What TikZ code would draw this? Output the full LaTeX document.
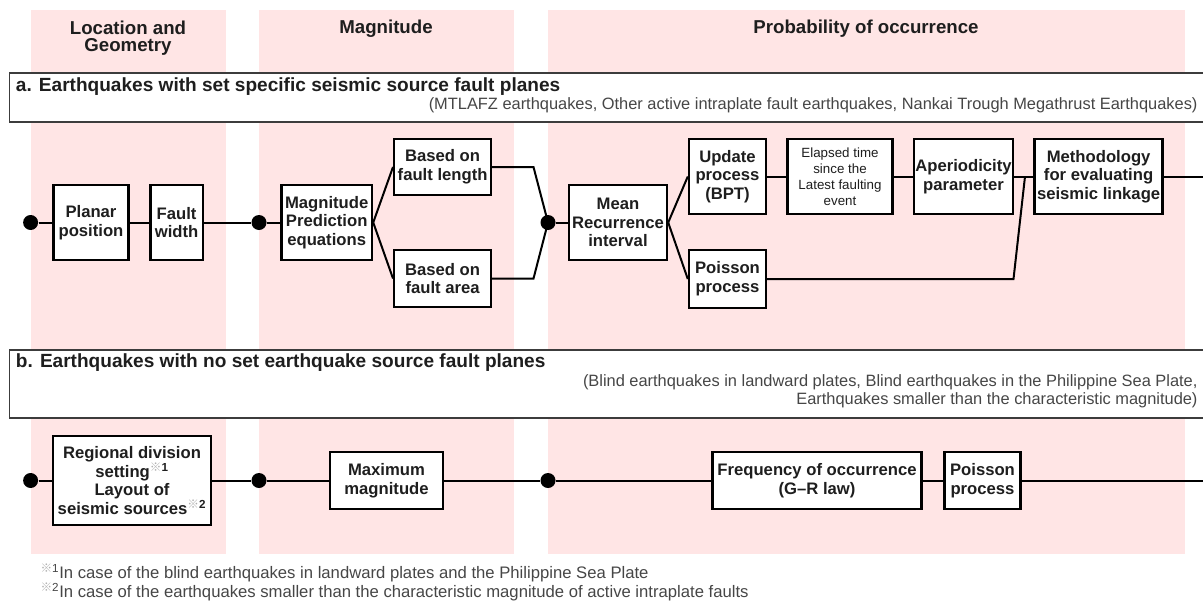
\documentclass[tikz,border=0pt]{standalone}
\usepackage{fontspec}
\setmainfont{Liberation Sans}
\newfontfamily\cjk{Noto Sans CJK JP}

\definecolor{colpink}{RGB}{255,229,229}
\definecolor{ink}{RGB}{30,30,30}
\definecolor{subgray}{RGB}{70,70,70}
\definecolor{framegray}{RGB}{60,60,60}
\definecolor{komegray}{RGB}{175,175,175}

\newcommand\kome[1]{\textsuperscript{{\cjk\color{komegray}※}#1}}

\tikzset{every picture/.style={line width=0.75pt}}
\tikzset{
  blk/.style={draw=black, line width=1.8pt, fill=white, text=ink, align=center, inner sep=1pt,
    font=\fontsize{12.5}{14}\selectfont\bfseries},
  blksm/.style={blk, font=\fontsize{10}{12}\selectfont},
  joint/.style={circle, fill=black, inner sep=0pt, minimum size=11.25pt},
  wire/.style={line width=1.5pt, black},
  hdr/.style={text=ink, align=center, font=\fontsize{14}{13}\selectfont\bfseries},
  ttl/.style={text=ink, inner sep=0pt, font=\fontsize{14.3}{16}\selectfont\bfseries},
  sub/.style={text=subgray, inner sep=0pt, align=right, font=\fontsize{12.3}{13.5}\selectfont},
  note/.style={text=subgray, inner sep=0pt, font=\fontsize{12.5}{14}\selectfont}
}

\begin{document}
\begin{tikzpicture}[x=0.75pt,y=0.75pt,yscale=-1,xscale=1]
	\useasboundingbox (0,0) rectangle (1203,600);

	%Shape: Rectangle [columns]
	\fill[colpink] (30.6,10) rectangle (225.8,554);
	\fill[colpink] (259,10) rectangle (513.6,554);
	\fill[colpink] (548,10) rectangle (1185,554);

	% Text Node [column heads]
	\node[hdr] (hLoc) at (128,38) {Location and\\Geometry};
	\node[hdr] (hMag) at (386,29) {Magnitude};
	\node[hdr] (hProb) at (866,29) {Probability of occurrence};

	%Shape: Frame a
	\fill[white] (9.3,73) rectangle (1203,122);
	\draw[framegray, line width=1pt] (1203,73) -| (9.3,122) -- (1203,122);
	\node[ttl, anchor=west] (tA) at (15.5,87) {a. Earthquakes with set specific seismic source fault planes};
	\node[sub, anchor=east] (sA) at (1198,105) {(MTLAFZ earthquakes, Other active intraplate fault earthquakes, Nankai Trough Megathrust Earthquakes)};

	%Shape: Frame b
	\fill[white] (9.3,350) rectangle (1203,418);
	\draw[framegray, line width=1pt] (1203,350) -| (9.3,418) -- (1203,418);
	\node[ttl, anchor=west] (tB) at (15.5,363) {b. Earthquakes with no set earthquake source fault planes};
	\node[sub, anchor=east] (sB) at (1198,391) {(Blind earthquakes in landward plates, Blind earthquakes in the Philippine Sea Plate,\\Earthquakes smaller than the characteristic magnitude)};

	% Row a
	\node[joint] (dA1) at (30.6,222.5) {};
	\node[blk, minimum width=56pt, minimum height=56.25pt] (plan) at (91,222.5) {Planar\\position};
	\node[blk, minimum width=39.3pt, minimum height=56.25pt] (fwid) at (176.6,222.5) {Fault\\width};
	\node[joint] (dA2) at (259,222.5) {};
	\node[blk, minimum width=68pt, minimum height=56.25pt] (mpe) at (326.7,222.5) {Magnitude\\Prediction\\equations};
	\node[blk, minimum width=72.6pt, minimum height=42pt] (flen) at (442.6,167) {Based on\\fault length};
	\node[blk, minimum width=72.6pt, minimum height=42.75pt] (farea) at (442.6,278.5) {Based on\\fault area};
	\coordinate (kL) at (533.5,167);
	\coordinate (kA) at (533.5,278.5);
	\node[joint] (dA3) at (548,222.5) {};
	\node[blk, minimum width=73.5pt, minimum height=56.25pt] (mri) at (618,222.5) {Mean\\Recurrence\\interval};
	\node[blk, minimum width=57.75pt, minimum height=56.25pt] (upd) at (727.5,176.5) {Update\\process\\(BPT)};
	\node[blk, minimum width=57.75pt, minimum height=43.5pt] (poi) at (727.5,279) {Poisson\\process};
	\node[blksm, minimum width=78.5pt, minimum height=56.25pt] (elap) at (840,176.5) {Elapsed time\\since the\\Latest faulting\\event};
	\node[blk, minimum width=73.9pt, minimum height=56.25pt] (aper) at (963.5,176.5) {Aperiodicity\\parameter};
	\node[blk, minimum width=96pt, minimum height=56.25pt] (meth) at (1098.6,176.5) {Methodology\\for evaluating\\seismic linkage};
	\coordinate (kP) at (1013.5,279);
	\coordinate (kJ) at (1025,176.5);
	\coordinate (eA) at (1203,176.5);

	\draw[wire] (dA1) -- (plan);
	\draw[wire] (plan) -- (fwid);
	\draw[wire] (fwid) -- (dA2);
	\draw[wire] (dA2) -- (mpe);
	\draw[wire] (mpe.east) -- (flen.west);
	\draw[wire] (mpe.east) -- (farea.west);
	\draw[wire] (flen) -- (kL) -- (dA3.center);
	\draw[wire] (farea) -- (kA) -- (dA3.center);
	\draw[wire] (dA3) -- (mri);
	\draw[wire] (mri.east) -- (upd.west);
	\draw[wire] (mri.east) -- (poi.west);
	\draw[wire] (upd) -- (elap);
	\draw[wire] (elap) -- (aper);
	\draw[wire] (aper) -- (meth);
	\draw[wire] (poi) -- (kP) -- (kJ);
	\draw[wire] (meth) -- (eA);

	% Row b
	\node[joint] (dB1) at (30.6,480.5) {};
	\node[blk, minimum width=118.9pt, minimum height=66.75pt] (reg) at (132,480.5) {Regional division\\setting\kome{1}\\Layout of\\seismic sources\kome{2}};
	\node[joint] (dB2) at (259,480.5) {};
	\node[blk, minimum width=84.75pt, minimum height=42.75pt] (maxm) at (386.5,480.5) {Maximum\\magnitude};
	\node[joint] (dB3) at (548,480.5) {};
	\node[blk, minimum width=156.75pt, minimum height=42.75pt] (freq) at (817,480.5) {Frequency of occurrence\\(G--R law)};
	\node[blk, minimum width=57pt, minimum height=42.75pt] (poib) at (982.5,480.5) {Poisson\\process};
	\coordinate (eB) at (1203,480.5);

	\draw[wire] (dB1) -- (reg);
	\draw[wire] (reg) -- (dB2);
	\draw[wire] (dB2) -- (maxm);
	\draw[wire] (maxm) -- (dB3);
	\draw[wire] (dB3) -- (freq);
	\draw[wire] (freq) -- (poib);
	\draw[wire] (poib) -- (eB);

	% Text Node [notes]
	\node[note, anchor=west] (fn1) at (40,573) {\kome{1}In case of the blind earthquakes in landward plates and the Philippine Sea Plate};
	\node[note, anchor=west] (fn2) at (40,592) {\kome{2}In case of the earthquakes smaller than the characteristic magnitude of active intraplate faults};
\end{tikzpicture}
\end{document}
